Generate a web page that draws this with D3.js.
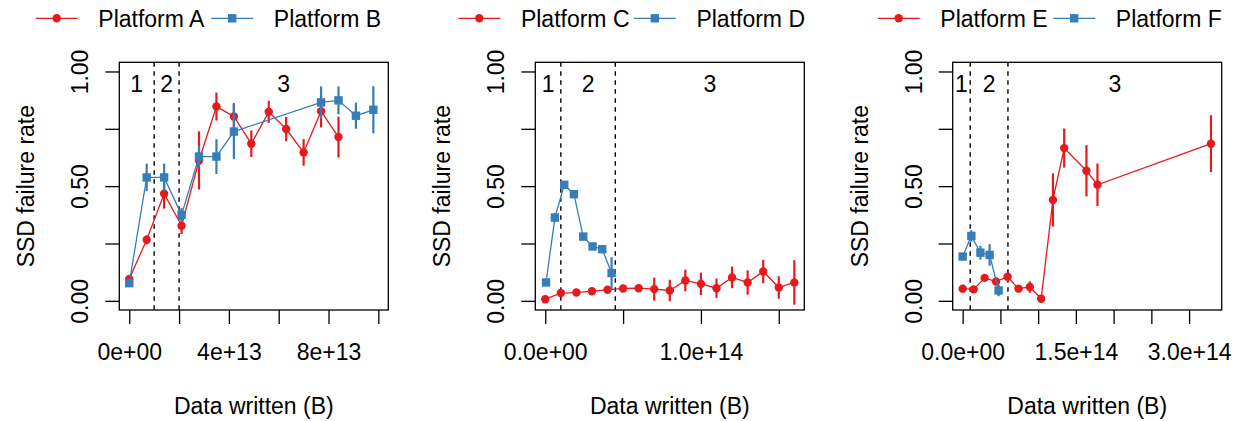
<!DOCTYPE html>
<html>
<head>
<meta charset="utf-8">
<script src="https://cdn.jsdelivr.net/npm/d3@7.9.0/dist/d3.min.js"></script>
<style>
  body { margin: 0; background: #fff; }
  svg text { font-family: "Liberation Sans", Arial, Helvetica, sans-serif; font-size: 23px; fill: #000; }
</style>
</head>
<body>
<svg id="chart" width="1238" height="421"></svg>
<script>
// ---- data (x in bytes written, y = failure rate, e = half error bar) ----
const seriesNames = [["Platform A", "Platform B"], ["Platform C", "Platform D"], ["Platform E", "Platform F"]];

const p1RedX = [0, 0.7, 1.4, 2.1, 2.8, 3.5, 4.2, 4.9, 5.6, 6.3, 7.0, 7.7, 8.4].map(d => d * 1e13);
const p1RedY = [0.095, 0.266, 0.467, 0.327, 0.612, 0.847, 0.804, 0.685, 0.824, 0.749, 0.647, 0.827, 0.714];
const p1RedE = [0.01, 0.02, 0.065, 0.036, 0.127, 0.061, 0.058, 0.058, 0.048, 0.053, 0.058, 0.071, 0.089];
const p1BlueX = [0, 0.7, 1.4, 2.1, 2.8, 3.5, 4.2, 7.7, 8.4, 9.1, 9.8].map(d => d * 1e13);
const p1BlueY = [0.077, 0.538, 0.538, 0.375, 0.629, 0.629, 0.738, 0.865, 0.874, 0.807, 0.833];
const p1BlueE = [0.01, 0.06, 0.06, 0.03, 0.048, 0.076, 0.12, 0.07, 0.061, 0.057, 0.103];

const p2RedX = [0, 1, 2, 3, 4, 5, 6, 7, 8, 9, 10, 11, 12, 13, 14, 15, 16].map(d => d * 1e13);
const p2RedY = [0.007, 0.034, 0.036, 0.042, 0.048, 0.054, 0.055, 0.051, 0.045, 0.089, 0.074, 0.055, 0.102, 0.08, 0.128, 0.058, 0.08];
const p2RedE = [0.005, 0.008, 0.008, 0.008, 0.01, 0.01, 0.012, 0.05, 0.047, 0.047, 0.049, 0.042, 0.047, 0.053, 0.051, 0.049, 0.097];
const p2BlueX = [0.05, 0.62, 1.22, 1.84, 2.44, 3.04, 3.66, 4.26].map(d => d * 1e13);
const p2BlueY = [0.08, 0.363, 0.506, 0.465, 0.28, 0.237, 0.225, 0.121];
const p2BlueE = [0.01, 0.02, 0.015, 0.015, 0.015, 0.015, 0.015, 0.069];

const p3RedX = [0, 1.46, 2.91, 4.42, 5.95, 7.4, 8.9, 10.4, 11.96, 13.45, 16.4, 17.86, 32.9].map(d => d * 1e13);
const p3RedY = [0.053, 0.05, 0.1, 0.084, 0.105, 0.053, 0.06, 0.009, 0.44, 0.666, 0.567, 0.506, 0.685];
const p3RedE = [0.01, 0.01, 0.015, 0.015, 0.015, 0.015, 0.025, 0.01, 0.116, 0.085, 0.112, 0.093, 0.124];
const p3BlueX = [0, 1.15, 2.35, 3.57, 4.76].map(d => d * 1e13);
const p3BlueY = [0.193, 0.283, 0.21, 0.2, 0.045];
const p3BlueE = [0.015, 0.025, 0.03, 0.047, 0.025];

// region boundaries (dashed lines)
const p1Bounds = [1e13, 2e13];
const p2Bounds = [1e13, 4.5e13];
const p3Bounds = [1e13, 6e13];

// x axis limits, ticks and labels
const xLims = [[0, 1e14], [0, 1.6e14], [0, 3.3e14]];
const p1Ticks = [0, 2e13, 4e13, 6e13, 8e13, 1e14];
const p1TickLabels = ["0e+00", "", "4e+13", "", "8e+13", ""];
const p2Ticks = [0, 5e13, 1e14, 1.5e14];
const p2TickLabels = ["0.0e+00", "", "1.0e+14", ""];
const p3Ticks = [0, 5e13, 1e14, 1.5e14, 2e14, 2.5e14, 3e14];
const p3TickLabels = ["0.0e+00", "", "", "1.5e+14", "", "", "3.0e+14"];

const yTicks = [0, 0.25, 0.5, 0.75, 1];
const yTickLabels = ["0.00", "", "0.50", "", "1.00"];
const regionLabels = ["1", "2", "3"];

const red = "#E41A1C", blue = "#377EB8";

const panels = [
  { red: [p1RedX, p1RedY, p1RedE], blue: [p1BlueX, p1BlueY, p1BlueE], bounds: p1Bounds, ticks: p1Ticks, labels: p1TickLabels },
  { red: [p2RedX, p2RedY, p2RedE], blue: [p2BlueX, p2BlueY, p2BlueE], bounds: p2Bounds, ticks: p2Ticks, labels: p2TickLabels },
  { red: [p3RedX, p3RedY, p3RedE], blue: [p3BlueX, p3BlueY, p3BlueE], bounds: p3Bounds, ticks: p3Ticks, labels: p3TickLabels },
];

// ---- layout ----
const boxLeft = [119.3, 535.3, 952.7];
const boxW = 269, boxTop = 62.3, boxBottom = 310;
const legendLeft = [35.7, 458.3, 877.7];
const dotR = 4.2, sq = 8.4;

const svg = d3.select("#chart");

// R-style 4% padding
function pad(lim) {
  const d = (lim[1] - lim[0]) * 0.04;
  return [lim[0] - d, lim[1] + d];
}

const y = d3.scaleLinear().domain(pad([0, 1])).range([boxBottom, boxTop]);

panels.forEach((p, i) => {
  const x = d3.scaleLinear().domain(pad(xLims[i])).range([boxLeft[i], boxLeft[i] + boxW]);
  const g = svg.append("g");

  // dashed region lines
  p.bounds.forEach(b => {
    g.append("line")
      .attr("x1", x(b)).attr("x2", x(b))
      .attr("y1", boxTop).attr("y2", boxBottom)
      .attr("stroke", "#000").attr("stroke-width", 1.4)
      .attr("stroke-dasharray", "4.5,4.5");
  });

  // region numbers, centred in each region
  const edges = [x.range()[0], x(p.bounds[0]), x(p.bounds[1]), x.range()[1]];
  regionLabels.forEach((lab, k) => {
    g.append("text")
      .attr("x", (edges[k] + edges[k + 1]) / 2)
      .attr("y", 91.5)
      .attr("text-anchor", "middle")
      .text(lab);
  });

  // series
  [[p.red, red, "circle"], [p.blue, blue, "square"]].forEach(([s, col, shape]) => {
    const pts = s[0].map((xv, k) => ({ x: xv, y: s[1][k], e: s[2][k] }));
    g.append("path")
      .datum(pts)
      .attr("fill", "none").attr("stroke", col).attr("stroke-width", 1.3)
      .attr("d", d3.line().x(d => x(d.x)).y(d => y(d.y)));
    g.selectAll(null).data(pts).enter().append("line")
      .attr("x1", d => x(d.x)).attr("x2", d => x(d.x))
      .attr("y1", d => y(d.y - d.e)).attr("y2", d => y(d.y + d.e))
      .attr("stroke", col).attr("stroke-width", 2.2);
    if (shape === "circle") {
      g.selectAll(null).data(pts).enter().append("circle")
        .attr("cx", d => x(d.x)).attr("cy", d => y(d.y)).attr("r", dotR)
        .attr("fill", col);
    } else {
      g.selectAll(null).data(pts).enter().append("rect")
        .attr("x", d => x(d.x) - sq / 2).attr("y", d => y(d.y) - sq / 2)
        .attr("width", sq).attr("height", sq)
        .attr("fill", col);
    }
  });

  // box
  g.append("rect")
    .attr("x", boxLeft[i]).attr("y", boxTop)
    .attr("width", boxW).attr("height", boxBottom - boxTop)
    .attr("fill", "none").attr("stroke", "#000").attr("stroke-width", 1.3);

  // x axis
  const xAxis = g.append("g")
    .attr("transform", `translate(0,${boxBottom})`)
    .call(d3.axisBottom(x).tickValues(p.ticks).tickSize(14)
      .tickFormat((d, k) => p.labels[k]));
  xAxis.select(".domain").remove();
  xAxis.selectAll(".tick line").attr("stroke-width", 1.3);
  xAxis.selectAll("text").attr("y", 50).attr("dy", 0).attr("fill", "#000")
    .style("font-size", "23px").style("font-family", "'Liberation Sans', Arial, sans-serif");

  // y axis
  const yAxis = g.append("g")
    .attr("transform", `translate(${boxLeft[i]},0)`)
    .call(d3.axisLeft(y).tickValues(yTicks).tickSize(14)
      .tickFormat((d, k) => yTickLabels[k]));
  yAxis.select(".domain").remove();
  yAxis.selectAll(".tick line").attr("stroke-width", 1.3);
  yAxis.selectAll("text")
    .attr("transform", "rotate(-90)")
    .attr("x", 0).attr("y", -31).attr("dy", 0)
    .attr("text-anchor", "middle").attr("fill", "#000")
    .style("font-size", "23px").style("font-family", "'Liberation Sans', Arial, sans-serif");

  // axis titles
  g.append("text")
    .attr("x", boxLeft[i] + boxW / 2).attr("y", 414)
    .attr("text-anchor", "middle")
    .text("Data written (B)");
  g.append("text")
    .attr("transform", `translate(${boxLeft[i] - 85},${(boxTop + boxBottom) / 2}) rotate(-90)`)
    .attr("text-anchor", "middle")
    .text("SSD failure rate");

  // legend
  const lg = g.append("g").attr("transform", `translate(${legendLeft[i]},18.3)`);
  [[red, "circle"], [blue, "square"]].forEach(([col, shape], k) => {
    const lx = k * 175.5;
    lg.append("line")
      .attr("x1", lx).attr("x2", lx + 42).attr("y1", 0).attr("y2", 0)
      .attr("stroke", col).attr("stroke-width", 1.3);
    if (shape === "circle") {
      lg.append("circle").attr("cx", lx + 21).attr("cy", 0).attr("r", dotR).attr("fill", col);
    } else {
      lg.append("rect").attr("x", lx + 21 - sq / 2).attr("y", -sq / 2)
        .attr("width", sq).attr("height", sq).attr("fill", col);
    }
    lg.append("text")
      .attr("x", lx + 62.6).attr("y", 8.2)
      .text(seriesNames[i][k]);
  });
});
</script>
</body>
</html>
